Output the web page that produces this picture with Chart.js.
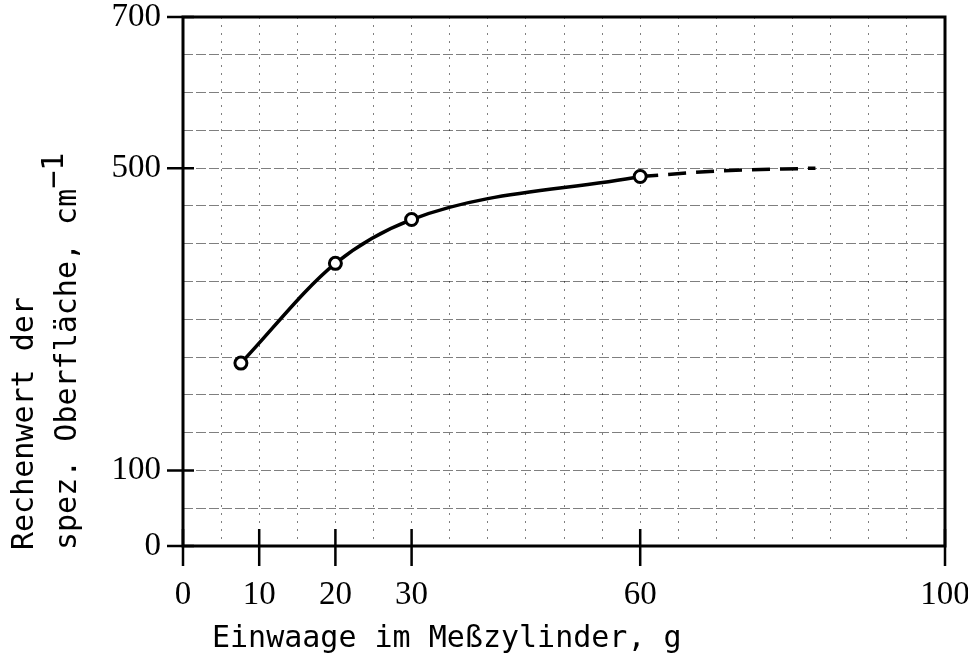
<!DOCTYPE html>
<html lang="de">
<head>
<meta charset="utf-8">
<title>Rechenwert der spez. Oberfläche</title>
<script src="https://cdn.jsdelivr.net/npm/chart.js@4.4.1/dist/chart.umd.min.js"></script>
<style>
  html, body { margin: 0; padding: 0; background: #fff; }
</style>
</head>
<body>
<canvas id="chart" width="968" height="661"></canvas>
<script>
// Messpunkte (Einwaage in g, Rechenwert in cm^-1)
const einwaage = [7.6, 20, 30, 60];
const rechenwert = [242, 374, 432, 489];

// gestrichelte Verlängerung der Kurve
const einwaageExtra = [60, 70, 83];
const rechenwertExtra = [489, 496, 500];

// beschriftete Teilstriche
const xTickLabels = [0, 10, 20, 30, 60, 100];
const yTickLabels = [0, 100, 500, 700];

const xTitle = 'Einwaage im Meßzylinder, g';
const yTitleLines = ['Rechenwert der', 'spez. Oberfläche, cm'];
const yTitleSup = '−1';

const tickFont = { family: '"Liberation Serif", serif', size: 33 };
const titleFont = '30px "DejaVu Sans Mono", monospace';

const toPoints = (xs, ys) => xs.map((x, i) => ({ x: x, y: ys[i] }));

// Rahmen, große Teilstriche und Achsentitel
const axisDecor = {
    id: 'axisDecor',
    afterDatasetsDraw(chart) {
        const { ctx, chartArea: a, scales: { x, y } } = chart;
        ctx.save();
        ctx.strokeStyle = '#000';
        ctx.lineWidth = 3;
        ctx.strokeRect(a.left, a.top, a.right - a.left, a.bottom - a.top);

        ctx.lineWidth = 2.5;
        ctx.beginPath();
        xTickLabels.forEach(v => {
            const px = x.getPixelForValue(v);
            ctx.moveTo(px, a.bottom - 17);
            ctx.lineTo(px, a.bottom + 20);
        });
        yTickLabels.forEach(v => {
            const py = y.getPixelForValue(v);
            ctx.moveTo(a.left - 16, py);
            ctx.lineTo(a.left + 11, py);
        });
        ctx.stroke();
        ctx.restore();
    },
    afterDraw(chart) {
        const { ctx, chartArea: a } = chart;
        ctx.save();
        ctx.fillStyle = '#000';
        ctx.font = titleFont;
        ctx.textAlign = 'left';
        ctx.textBaseline = 'alphabetic';

        // x-Titel
        ctx.fillText(xTitle, a.left + 29, a.bottom + 101);

        // y-Titel, zweizeilig, gedreht
        ctx.translate(33, a.bottom + 4);
        ctx.rotate(-Math.PI / 2);
        ctx.fillText(yTitleLines[0], 0, 0);
        ctx.fillText(yTitleLines[1], 0, 43);
        const w = ctx.measureText(yTitleLines[1]).width;
        ctx.fillText(yTitleSup, w, 43 - 13);
        ctx.restore();
    }
};

const chart = new Chart(document.getElementById('chart'), {
    type: 'scatter',
    data: {
        datasets: [
            {
                label: 'Messwerte',
                data: toPoints(einwaage, rechenwert),
                showLine: true,
                borderColor: '#000',
                borderWidth: 3.5,
                cubicInterpolationMode: 'monotone',
                pointRadius: 6,
                pointBorderWidth: 3,
                pointBorderColor: '#000',
                pointBackgroundColor: '#fff',
                order: 1
            },
            {
                label: 'Verlängerung',
                data: toPoints(einwaageExtra, rechenwertExtra),
                showLine: true,
                borderColor: '#000',
                borderWidth: 3.5,
                borderDash: [18, 10],
                cubicInterpolationMode: 'monotone',
                pointRadius: 0,
                order: 2
            }
        ]
    },
    options: {
        responsive: false,
        animation: false,
        devicePixelRatio: 1,
        layout: { padding: { left: 0, right: 23, top: 17, bottom: 0 } },
        plugins: {
            legend: { display: false },
            tooltip: { enabled: false }
        },
        scales: {
            x: {
                type: 'linear',
                min: 0,
                max: 100,
                afterFit(scale) {
                    scale.height = 115;
                    scale.paddingLeft = 0;
                    scale.paddingRight = 0;
                },
                border: { display: false, dash: [2, 6] },
                grid: {
                    drawTicks: false,
                    lineWidth: 1,
                    color: ctx => (ctx.tick && (ctx.tick.value === 0 || ctx.tick.value === 100))
                        ? 'rgba(0,0,0,0)' : 'rgba(0,0,0,0.5)'
                },
                ticks: {
                    stepSize: 5,
                    autoSkip: false,
                    maxRotation: 0,
                    padding: 30,
                    color: '#000',
                    font: tickFont,
                    callback: v => xTickLabels.includes(v) ? String(v) : ''
                }
            },
            y: {
                type: 'linear',
                min: 0,
                max: 700,
                afterFit(scale) {
                    scale.width = 183;
                    scale.paddingTop = 0;
                    scale.paddingBottom = 0;
                },
                border: { display: false, dash: [10, 3] },
                grid: {
                    drawTicks: false,
                    lineWidth: 1,
                    color: ctx => (ctx.tick && (ctx.tick.value === 0 || ctx.tick.value === 700))
                        ? 'rgba(0,0,0,0)' : 'rgba(0,0,0,0.5)'
                },
                ticks: {
                    stepSize: 50,
                    autoSkip: false,
                    padding: 22,
                    color: '#000',
                    font: tickFont,
                    callback: v => yTickLabels.includes(v) ? String(v) : ''
                }
            }
        }
    },
    plugins: [axisDecor]
});
</script>
</body>
</html>
